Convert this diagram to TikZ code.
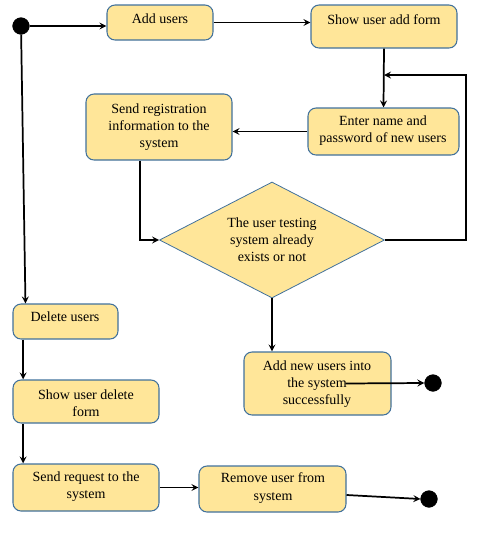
\documentclass[tikz,border=0pt]{standalone}
\usepackage{fontspec}
\setmainfont{Liberation Serif}
\usepackage{tikz}
\usetikzlibrary{arrows,shapes.geometric,fit}

\definecolor{boxfill}{HTML}{FFE699}
\definecolor{boxline}{HTML}{41719C}

\tikzset{
  box/.style={draw=boxline, fill=boxfill, rounded corners=6pt, line width=0.8pt, inner sep=0pt},
  txt/.style={align=center, inner sep=0pt, font=\fontsize{10.5}{12.9}\selectfont},
  dot/.style={circle, fill=black, draw=black, inner sep=0pt, minimum size=12.5pt},
  arr/.style={->, >=stealth, line width=1.3pt},
  ln/.style={line width=1.3pt}
}

\begin{document}
\begin{tikzpicture}[x=0.75pt,y=-0.75pt]
\useasboundingbox (0,0) rectangle (492,544);

% start and end
\node[dot] (start) at (21,26) {};
\node[dot] (end1) at (433,383) {};
\node[dot] (end2) at (429,499) {};

% adding a user
\node[box, fit={(107,5) (213,40)}] (adduser) {}; \node[txt] (adduser-t) at (160,19) {Add users};
\node[box, fit={(311,5) (457,48)}] (showadd) {}; \node[txt] (showadd-t) at (384,20) {Show user add form};
\node[box, fit={(308,108) (459,155)}] (enter) {}; \node[txt] (enter-t) at (383,131) {Enter name and\\password of new users};
\node[box, fit={(86,94) (232,160)}] (sendreg) {}; \node[txt] (sendreg-t) at (159,127) {Send registration\\information to the\\system};
\node[diamond, shape aspect=1.94, draw=boxline, fill=boxfill, line width=0.6pt, minimum width=168.75pt, minimum height=87pt, txt] (test) at (272,240) {The user testing\\system already\\exists or not};
\node[box, fit={(244,352) (391,415)}] (addnew) {}; \node[txt] (addnew-t) at (317,384) {Add new users into\\the system\\successfully};

% deleting a user
\node[box, fit={(13,304) (118,339)}] (delete) {}; \node[txt] (delete-t) at (65,317) {Delete users};
\node[box, fit={(13,380) (159,423)}] (showdel) {}; \node[txt] (showdel-t) at (86,403) {Show user delete\\form};
\node[box, fit={(13,464) (159,511)}] (sendreq) {}; \node[txt] (sendreq-t) at (86,487) {Send request to the\\system};
\node[box, fit={(199,466) (346,512)}] (remove) {}; \node[txt] (remove-t) at (273,488) {Remove user from\\system};

\coordinate (loopup) at (466,75);

% flows
\draw[arr] (start) -- (start -| adduser.west);
\draw[arr] (adduser.east) -- (showadd.west |- adduser.east);
\draw[arr] (showadd.south) -- (enter.north);
\draw[arr] (enter.west) -- (sendreg.east |- enter.west);
\draw[arr] ([xshift=-14pt]sendreg.south) |- (test.west);
\draw[arr] (test.east) -| (loopup) -- (showadd.south |- loopup);
\draw[arr] (test.south) -- (test.south |- addnew.north);
\draw[arr] ([xshift=21pt]addnew.center) -- (end1.west);

\draw[arr] (start) -- ([xshift=9.75pt]delete.north west);
\draw[arr] ([xshift=8pt]delete.south west) -- ([xshift=8pt]showdel.north west);
\draw[arr] ([xshift=8pt]showdel.south west) -- ([xshift=8pt]sendreq.north west);
\draw[arr] (sendreq.east) -- (remove.west |- sendreq.east);
\draw[arr] ([yshift=-4.5pt]remove.east) -- (end2.west);

\end{tikzpicture}
\end{document}
